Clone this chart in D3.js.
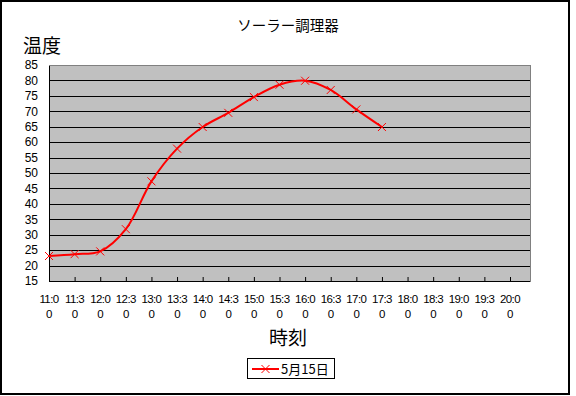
<!DOCTYPE html>
<html>
<head>
<meta charset="utf-8">
<script src="https://cdn.jsdelivr.net/npm/d3@7"></script>
<style>
  body { margin: 0; background: #fff; }
  svg { display: block; }
  text { font-family: "Liberation Sans", Arial, sans-serif; fill: #000; }
  .jp { font-family: "Noto Sans CJK JP", sans-serif; }
</style>
</head>
<body>
<div id="chart"></div>
<script>
// ソーラー調理器 - temperature by time of day
const times = ["11:00", "11:30", "12:00", "12:30", "13:00", "13:30", "14:00", "14:30",
    "15:00", "15:30", "16:00", "16:30", "17:00", "17:30", "18:00", "18:30",
    "19:00", "19:30", "20:00"];
const temps = [23.1, 23.7, 24.6, 31.8, 47.3, 57.9, 64.9, 69.5, 74.6, 78.6, 79.9, 76.9, 70.6, 64.9];
const yTicks = [15, 20, 25, 30, 35, 40, 45, 50, 55, 60, 65, 70, 75, 80, 85];
const seriesName = "5月15日";

const width = 576, height = 396;
const plot = { left: 49, top: 65, right: 530, bottom: 281 };

const svg = d3.select('#chart').append('svg')
    .attr('width', width)
    .attr('height', height);

// outer frame
svg.append('rect')
    .attr('x', 1).attr('y', 1)
    .attr('width', 568).attr('height', 393)
    .attr('fill', '#fff')
    .attr('stroke', '#000')
    .attr('stroke-width', 2);

// categories sit on the ticks; plot area runs a bit past the last one
const x = d3.scaleLinear().domain([0, times.length - 1]).range([plot.left, 510]);
const y = d3.scaleLinear().domain([15, 85]).range([plot.bottom, plot.top]);

svg.append('rect')
    .attr('x', plot.left).attr('y', plot.top)
    .attr('width', plot.right - plot.left).attr('height', plot.bottom - plot.top)
    .attr('fill', '#c0c0c0')
    .attr('stroke', '#808080')
    .attr('stroke-width', 1)
    .attr('shape-rendering', 'crispEdges');

// gridlines
svg.append('g')
    .selectAll('line')
    .data(yTicks.slice(1, -1))
    .join('line')
    .attr('x1', plot.left).attr('x2', plot.right)
    .attr('y1', d => Math.round(y(d)) + 0.5).attr('y2', d => Math.round(y(d)) + 0.5)
    .attr('stroke', '#000')
    .attr('stroke-width', 1);

// y axis
const yAxis = svg.append('g')
    .attr('transform', `translate(${plot.left},0)`)
    .call(d3.axisLeft(y).tickValues(yTicks).tickSize(0).tickPadding(11));
yAxis.select('.domain').attr('stroke', '#000').attr('shape-rendering', 'crispEdges');
yAxis.selectAll('text').attr('font-size', 12).attr('font-family', '"Liberation Sans", Arial, sans-serif');

// x axis, ticks point inward
const xAxis = svg.append('g')
    .attr('transform', `translate(0,${plot.bottom})`)
    .call(d3.axisBottom(x).tickValues(d3.range(times.length)).tickSize(-4).tickFormat(''));
xAxis.select('.domain').attr('d', `M${plot.left},0H${plot.right}`)
    .attr('stroke', '#000').attr('shape-rendering', 'crispEdges');
xAxis.selectAll('.tick line').attr('stroke', '#000');

// x labels wrap onto two lines
const xLab = svg.append('g')
    .selectAll('text')
    .data(times)
    .join('text')
    .attr('text-anchor', 'middle')
    .attr('font-size', 11.5)
    .attr('letter-spacing', -0.6);
xLab.append('tspan')
    .attr('x', (d, i) => x(i))
    .attr('y', 303)
    .text(d => d.slice(0, -1));
xLab.append('tspan')
    .attr('x', (d, i) => x(i))
    .attr('y', 318)
    .text(d => d.slice(-1));

// series
const line = d3.line()
    .x((d, i) => x(i))
    .y(d => y(d))
    .curve(d3.curveCatmullRom.alpha(0.5));

svg.append('path')
    .datum(temps)
    .attr('d', line)
    .attr('fill', 'none')
    .attr('stroke', '#ff0000')
    .attr('stroke-width', 2);

const m = 4;
svg.append('g')
    .selectAll('path')
    .data(temps)
    .join('path')
    .attr('d', (d, i) => {
        const cx = x(i), cy = y(d);
        return `M${cx - m},${cy - m}L${cx + m},${cy + m}M${cx - m},${cy + m}L${cx + m},${cy - m}`;
    })
    .attr('stroke', '#ff0000')
    .attr('stroke-width', 1)
    .attr('fill', 'none');

// titles
svg.append('text')
    .attr('class', 'jp')
    .attr('x', 288).attr('y', 31)
    .attr('text-anchor', 'middle')
    .attr('font-size', 14.5)
    .text('ソーラー調理器');

svg.append('text')
    .attr('class', 'jp')
    .attr('x', 23).attr('y', 53)
    .attr('font-size', 19)
    .text('温度');

svg.append('text')
    .attr('class', 'jp')
    .attr('x', 288).attr('y', 345)
    .attr('text-anchor', 'middle')
    .attr('font-size', 19)
    .text('時刻');

// legend
const lg = svg.append('g').attr('transform', 'translate(247,358)');
lg.append('rect')
    .attr('x', 0.5).attr('y', 0.5)
    .attr('width', 87).attr('height', 20)
    .attr('fill', '#fff')
    .attr('stroke', '#000');
lg.append('line')
    .attr('x1', 5).attr('x2', 32)
    .attr('y1', 11).attr('y2', 11)
    .attr('stroke', '#ff0000')
    .attr('stroke-width', 2);
lg.append('path')
    .attr('d', `M${18.5 - m},${11 - m}L${18.5 + m},${11 + m}M${18.5 - m},${11 + m}L${18.5 + m},${11 - m}`)
    .attr('stroke', '#ff0000')
    .attr('fill', 'none');
lg.append('text')
    .attr('class', 'jp')
    .attr('x', 34).attr('y', 15.5)
    .attr('font-size', 13)
    .text(seriesName);
</script>
</body>
</html>
